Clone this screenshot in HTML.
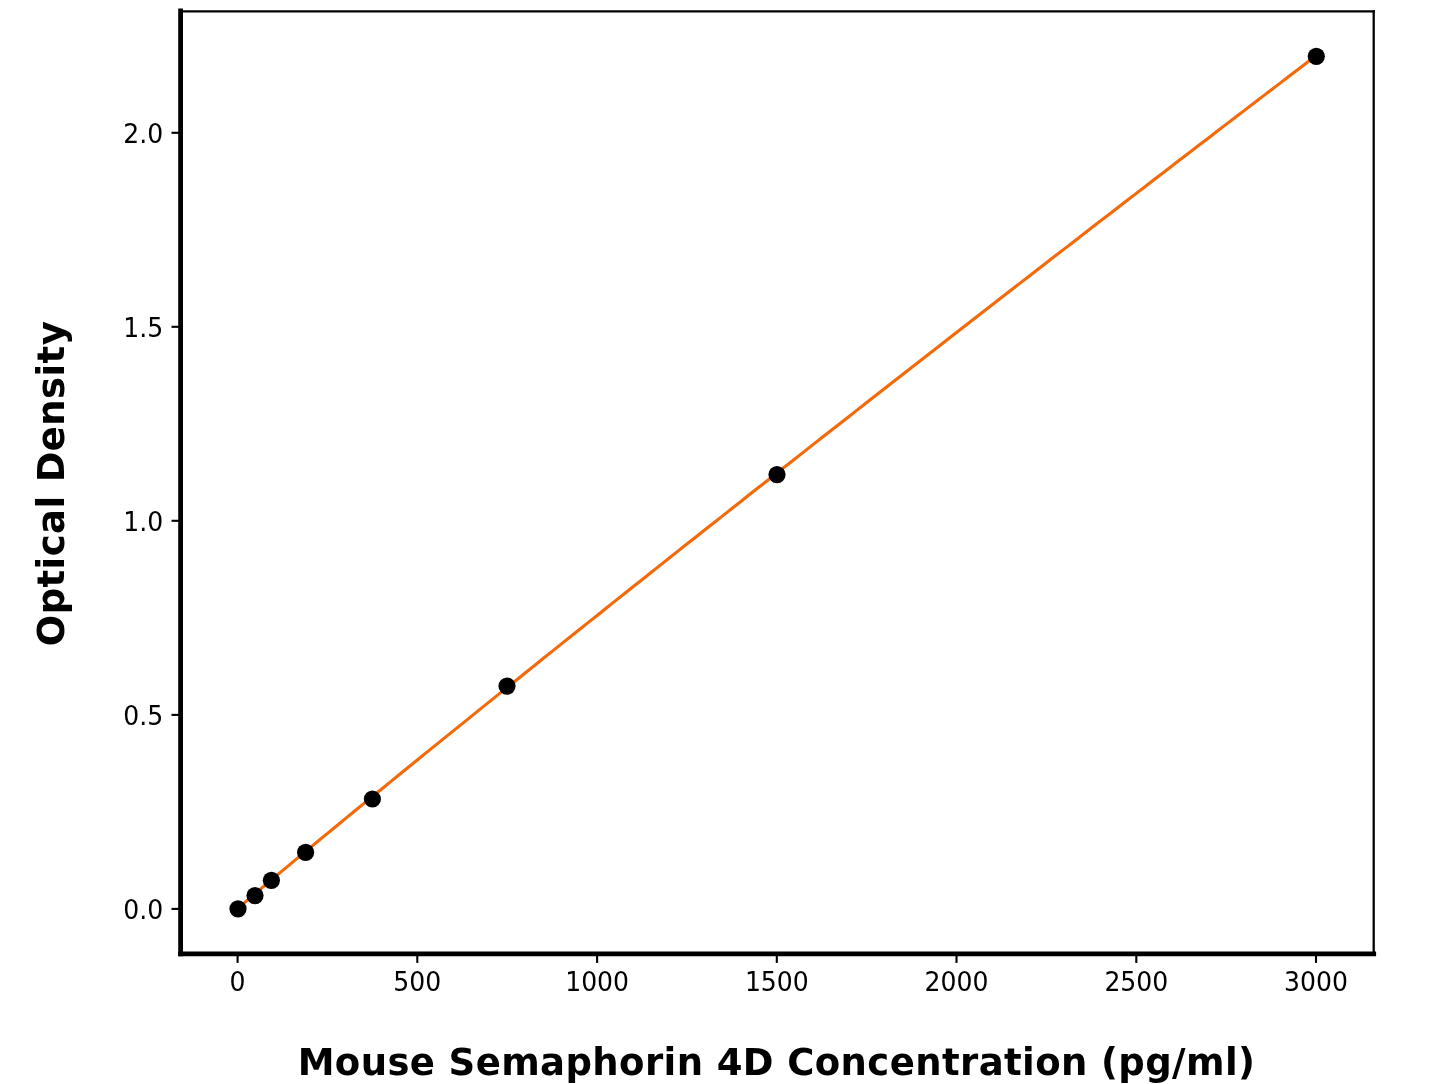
<!DOCTYPE html>
<html lang="en"><head><meta charset="utf-8"><title>Mouse Semaphorin 4D Standard Curve</title>
<style>html,body{margin:0;padding:0;background:#fff;}svg{display:block;}text{font-family:"DejaVu Sans","Liberation Sans",sans-serif;fill:#000;}</style></head><body>
<svg width="1445" height="1084" viewBox="0 0 1445 1084">
<rect width="1445" height="1084" fill="#fff"/>
<path d="M237.6,908.63 L246.6,900.83 L255.6,893.19 L264.6,885.62 L273.5,878.08 L282.5,870.58 L291.5,863.10 L300.5,855.65 L309.5,848.21 L318.5,840.79 L327.5,833.38 L336.5,825.99 L345.4,818.61 L354.4,811.25 L363.4,803.89 L372.4,796.55 L381.4,789.21 L390.4,781.89 L399.4,774.57 L408.3,767.26 L417.3,759.96 L426.3,752.67 L435.3,745.39 L444.3,738.12 L453.3,730.85 L462.3,723.59 L471.3,716.34 L480.2,709.09 L489.2,701.85 L498.2,694.62 L507.2,687.39 L516.2,680.17 L525.2,672.95 L534.2,665.75 L543.1,658.54 L552.1,651.35 L561.1,644.15 L570.1,636.97 L579.1,629.79 L588.1,622.62 L597.1,615.45 L606.1,608.28 L615.0,601.12 L624.0,593.97 L633.0,586.82 L642.0,579.68 L651.0,572.54 L660.0,565.41 L669.0,558.28 L677.9,551.15 L686.9,544.03 L695.9,536.92 L704.9,529.81 L713.9,522.71 L722.9,515.60 L731.9,508.51 L740.9,501.42 L749.8,494.33 L758.8,487.25 L767.8,480.17 L776.8,473.09 L785.8,466.03 L794.8,458.96 L803.8,451.90 L812.7,444.84 L821.7,437.79 L830.7,430.74 L839.7,423.70 L848.7,416.66 L857.7,409.62 L866.7,402.59 L875.7,395.56 L884.6,388.53 L893.6,381.51 L902.6,374.50 L911.6,367.49 L920.6,360.48 L929.6,353.47 L938.6,346.47 L947.5,339.47 L956.5,332.48 L965.5,325.49 L974.5,318.51 L983.5,311.52 L992.5,304.55 L1001.5,297.57 L1010.5,290.60 L1019.4,283.64 L1028.4,276.67 L1037.4,269.71 L1046.4,262.76 L1055.4,255.80 L1064.4,248.86 L1073.4,241.91 L1082.3,234.97 L1091.3,228.03 L1100.3,221.10 L1109.3,214.17 L1118.3,207.24 L1127.3,200.31 L1136.3,193.39 L1145.3,186.48 L1154.2,179.56 L1163.2,172.65 L1172.2,165.75 L1181.2,158.85 L1190.2,151.95 L1199.2,145.05 L1208.2,138.16 L1217.1,131.27 L1226.1,124.38 L1235.1,117.50 L1244.1,110.62 L1253.1,103.74 L1262.1,96.87 L1271.1,90.00 L1280.1,83.14 L1289.0,76.27 L1298.0,69.41 L1307.0,62.56 L1316.0,55.70" fill="none" stroke="#f4690a" stroke-width="3.1" stroke-linejoin="round"/>
<circle cx="238.0" cy="908.8" r="8.6" fill="#000"/>
<circle cx="255.0" cy="895.6" r="8.6" fill="#000"/>
<circle cx="271.4" cy="880.3" r="8.6" fill="#000"/>
<circle cx="305.6" cy="852.3" r="8.6" fill="#000"/>
<circle cx="372.4" cy="799.0" r="8.6" fill="#000"/>
<circle cx="507.0" cy="686.1" r="8.6" fill="#000"/>
<circle cx="777.0" cy="474.6" r="8.6" fill="#000"/>
<circle cx="1316.3" cy="56.3" r="8.6" fill="#000"/>
<line x1="237.6" y1="953.8" x2="237.6" y2="962.9" stroke="#000" stroke-width="2.1"/>
<text transform="translate(237.6,991) scale(1,1.04)" font-size="25.1" text-anchor="middle">0</text>
<line x1="417.3" y1="953.8" x2="417.3" y2="962.9" stroke="#000" stroke-width="2.1"/>
<text transform="translate(417.3,991) scale(1,1.04)" font-size="25.1" text-anchor="middle">500</text>
<line x1="597.1" y1="953.8" x2="597.1" y2="962.9" stroke="#000" stroke-width="2.1"/>
<text transform="translate(597.1,991) scale(1,1.04)" font-size="25.1" text-anchor="middle">1000</text>
<line x1="776.8" y1="953.8" x2="776.8" y2="962.9" stroke="#000" stroke-width="2.1"/>
<text transform="translate(776.8,991) scale(1,1.04)" font-size="25.1" text-anchor="middle">1500</text>
<line x1="956.5" y1="953.8" x2="956.5" y2="962.9" stroke="#000" stroke-width="2.1"/>
<text transform="translate(956.5,991) scale(1,1.04)" font-size="25.1" text-anchor="middle">2000</text>
<line x1="1136.3" y1="953.8" x2="1136.3" y2="962.9" stroke="#000" stroke-width="2.1"/>
<text transform="translate(1136.3,991) scale(1,1.04)" font-size="25.1" text-anchor="middle">2500</text>
<line x1="1316.0" y1="953.8" x2="1316.0" y2="962.9" stroke="#000" stroke-width="2.1"/>
<text transform="translate(1316.0,991) scale(1,1.04)" font-size="25.1" text-anchor="middle">3000</text>
<line x1="180.6" y1="908.9" x2="171.5" y2="908.9" stroke="#000" stroke-width="2.1"/>
<text transform="translate(163.1,918.8) scale(1,1.04)" font-size="25.1" text-anchor="end">0.0</text>
<line x1="180.6" y1="714.9" x2="171.5" y2="714.9" stroke="#000" stroke-width="2.1"/>
<text transform="translate(163.1,724.8) scale(1,1.04)" font-size="25.1" text-anchor="end">0.5</text>
<line x1="180.6" y1="520.8" x2="171.5" y2="520.8" stroke="#000" stroke-width="2.1"/>
<text transform="translate(163.1,530.7) scale(1,1.04)" font-size="25.1" text-anchor="end">1.0</text>
<line x1="180.6" y1="326.8" x2="171.5" y2="326.8" stroke="#000" stroke-width="2.1"/>
<text transform="translate(163.1,336.7) scale(1,1.04)" font-size="25.1" text-anchor="end">1.5</text>
<line x1="180.6" y1="132.8" x2="171.5" y2="132.8" stroke="#000" stroke-width="2.1"/>
<text transform="translate(163.1,142.7) scale(1,1.04)" font-size="25.1" text-anchor="end">2.0</text>
<line x1="180.6" y1="11.3" x2="1373.7" y2="11.3" stroke="#000" stroke-width="2.3" stroke-linecap="square"/>
<line x1="1373.7" y1="11.3" x2="1373.7" y2="953.8" stroke="#000" stroke-width="2.3" stroke-linecap="square"/>
<line x1="180.6" y1="10.8" x2="180.6" y2="953.8" stroke="#000" stroke-width="4.8" stroke-linecap="square"/>
<line x1="180.6" y1="953.8" x2="1373.7" y2="953.8" stroke="#000" stroke-width="4.8" stroke-linecap="square"/>
<text x="776.5" y="1075" font-size="37" font-weight="bold" letter-spacing="0.4" text-anchor="middle">Mouse Semaphorin 4D Concentration (pg/ml)</text>
<text transform="translate(64.0,483.5) rotate(-90)" font-size="37" font-weight="bold" letter-spacing="0.4" text-anchor="middle">Optical Density</text>
</svg></body></html>
